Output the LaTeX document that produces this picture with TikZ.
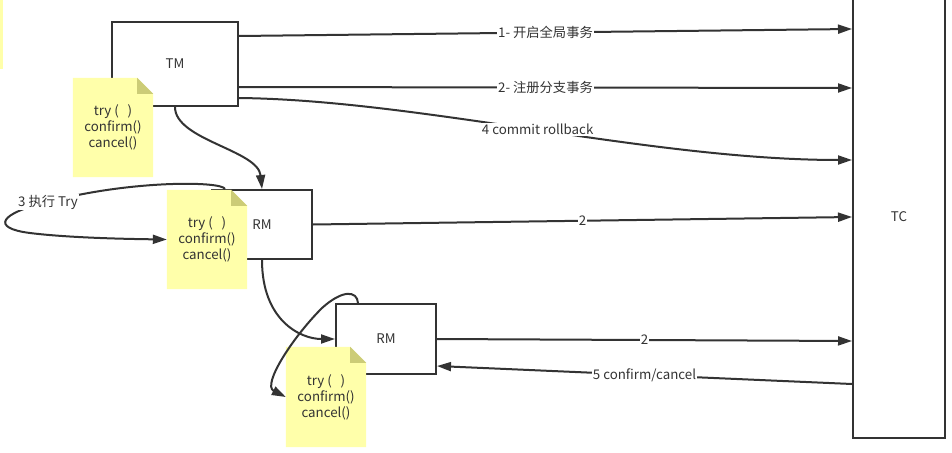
\documentclass[tikz,border=0pt]{standalone}
\usepackage{fontspec}
\setmainfont{Noto Sans CJK SC}
\usetikzlibrary{arrows.meta}
\definecolor{ln}{HTML}{333333}
\definecolor{notey}{HTML}{FFFFAA}
\definecolor{foldc}{HTML}{CCCC77}
\begin{document}
\begin{tikzpicture}[x=1pt,y=-1pt,
  every node/.style={font=\fontsize{13.3}{16}\selectfont, text=ln},
  box/.style={draw=ln, line width=2pt, fill=white, inner sep=0pt},
  notebox/.style={inner sep=0pt, align=center},
  arr/.style={draw=ln, line width=2pt, -{Triangle[length=14pt,width=9pt]}},
  lbl/.style={fill=white, inner sep=1pt}]
\useasboundingbox (0,0) rectangle (952,452);
\fill[notey] (0,0) rectangle (2.5,69);
% boxes
\node[box, minimum width=126pt, minimum height=84pt] (tm) at (175,64) {TM};
\node[box, minimum width=100pt, minimum height=69pt] (rm1) at (262,224.5) {RM};
\node[box, minimum width=100pt, minimum height=70pt] (rm2) at (386,339) {RM};
\node[box, minimum width=92pt, minimum height=443pt] (tc) at (899,216.5) {TC};
% notes
\node[notebox, minimum width=80pt, minimum height=99pt] (n1) at (113,127.5) {};
\node[notebox, minimum width=80pt, minimum height=99pt] (n2) at (207,239.5) {};
\node[notebox, minimum width=80pt, minimum height=100pt] (n3) at (326,397) {};
\foreach \n in {n1,n2,n3}{
  \fill[notey] (\n.north west) -- ([xshift=-16pt]\n.north east) -- ([yshift=-16pt]\n.north east) -- (\n.south east) -- (\n.south west) -- cycle;
  \fill[foldc] ([xshift=-16pt]\n.north east) -- ([xshift=-16pt,yshift=-16pt]\n.north east) -- ([yshift=-16pt]\n.north east) -- cycle;
  \node[notebox] at (\n) {try (\ \ \ )\\confirm()\\cancel()};
}
% connectors
\draw[arr] ([yshift=28pt]tm.east) -- node[lbl]{1- 开启全局事务} ([yshift=187.5pt]tc.west);
\draw[arr] ([yshift=-23pt]tm.east) -- node[lbl]{2- 注册分支事务} ([yshift=128.5pt]tc.west);
\draw[arr] ([yshift=-34pt]tm.east) .. controls (420,100) and (650,160) .. node[lbl, pos=0.5]{4 commit rollback} ([yshift=56.5pt]tc.west);
\draw[arr] (rm1.east) -- node[lbl]{2} ([yshift=-0.5pt]tc.west);
\draw[arr] (rm2.east) -- node[lbl]{2} ([yshift=-124.5pt]tc.west);
\draw[arr] ([yshift=-167.5pt]tc.west) -- node[lbl]{5 confirm/cancel} ([yshift=-27pt]rm2.east);
\draw[arr] (tm.south) .. controls (175,140) and (258,150) .. (rm1.north);
\draw[arr] (rm1.south) .. controls (262,320) and (300,339) .. (rm2.west);
\draw[arr] ([xshift=-37pt]rm1.north) .. controls (222,181) and (130,180) .. (48,202)
  .. controls (0,213) and (-10,228) .. (30,233) .. controls (70,238) and (130,239) .. (n2.west);
\node[lbl] (l3) at (48,202) {3 执行 Try};
\draw[arr] ([xshift=-28pt]rm2.north) .. controls (357,290) and (342,290) .. (322,308)
  .. controls (292,338) and (262,385) .. (n3.west);
\end{tikzpicture}
\end{document}
